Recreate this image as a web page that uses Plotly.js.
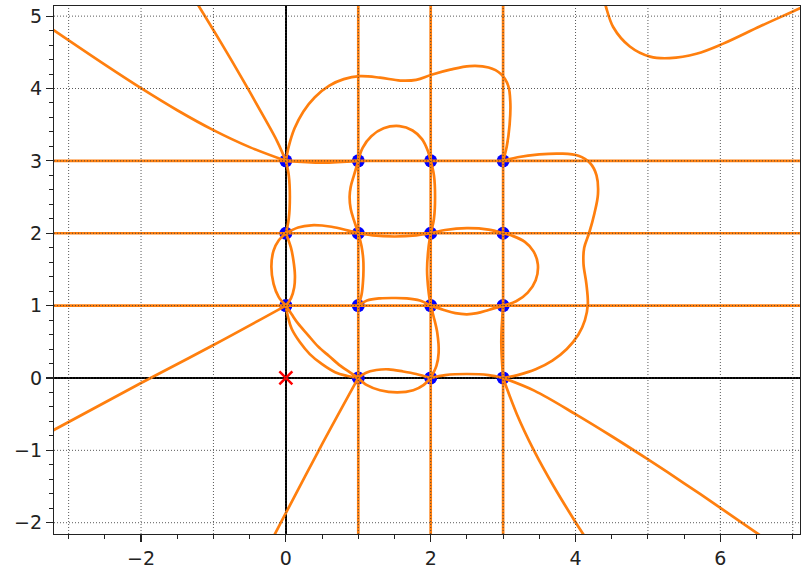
<!DOCTYPE html>
<html>
<head>
<meta charset="utf-8">
<script src="https://cdn.plot.ly/plotly-3.0.1.min.js"></script>
<style>
  html, body { margin: 0; padding: 0; background: #fff; }
  #chart { width: 801px; height: 574px; }
</style>
</head>
<body>
<div id="chart"></div>
<script>
// Axis windows
const xRange = [-3.202, 7.1];
const yRange = [-2.156, 5.14];

// Integer grid positions and tick labels
const gridX = [-3, -2, -1, 0, 1, 2, 3, 4, 5, 6, 7];
const gridY = [-2, -1, 0, 1, 2, 3, 4, 5];

// Straight components of the zero set
const lineXs = [1, 2, 3];
const lineYs = [1, 2, 3];

// Marked points
const ptsX = [0, 0, 0, 1, 1, 1, 1, 2, 2, 2, 2, 3, 3, 3, 3];
const ptsY = [1, 2, 3, 0, 1, 2, 3, 0, 1, 2, 3, 0, 1, 2, 3];
const originX = [0];
const originY = [0];

// Curved branches (traced points)
const upperLeftShallowX = [-3.3, -2.5, -2.0, -1.5, -1.0, -0.5, 0];
const upperLeftShallowY = [4.87, 4.33, 4.005, 3.70, 3.425, 3.19, 3.0];

const upperLeftSteepX = [-1.24, -0.9, -0.6, -0.3, -0.12, 0];
const upperLeftSteepY = [5.2, 4.64, 4.13, 3.6, 3.27, 3.0];

const lowerLeftX = [0, -1.0, -2.0, -3.3];
const lowerLeftY = [1, 0.455, -0.07, -0.77];

const bottomLeftX = [1, 0.455, -0.07, -0.2];
const bottomLeftY = [0, -1.0, -2.0, -2.25];

const archX = [0, 0.04, 0.12, 0.24, 0.4, 0.6, 0.8, 1.02, 1.3, 1.58, 1.8, 2.01, 2.27, 2.54, 2.8, 2.97, 3.07, 3.10, 3.09, 3.05, 3];
const archY = [3, 3.2, 3.45, 3.68, 3.88, 4.04, 4.13, 4.17, 4.15, 4.11, 4.12, 4.19, 4.26, 4.31, 4.29, 4.2, 4.04, 3.8, 3.5, 3.2, 3];

const rightLoopX = [3, 3.2, 3.45, 3.68, 3.88, 4.04, 4.13, 4.17, 4.15, 4.11, 4.12, 4.19, 4.26, 4.31, 4.29, 4.2, 4.04, 3.8, 3.5, 3.2, 3];
const rightLoopY = [0, 0.04, 0.12, 0.24, 0.4, 0.6, 0.8, 1.02, 1.3, 1.58, 1.8, 2.01, 2.27, 2.54, 2.8, 2.97, 3.07, 3.10, 3.09, 3.05, 3];

const topRightX = [4.4, 4.42, 4.52, 4.75, 5.03, 5.30, 5.67, 6.04, 6.55, 7.1, 7.2];
const topRightY = [5.2, 5.13, 4.85, 4.58, 4.44, 4.42, 4.48, 4.62, 4.86, 5.11, 5.16];

const bottomShallowX = [3, 3.43, 4.01, 4.5, 4.98, 5.5, 5.99, 6.52, 6.65];
const bottomShallowY = [0, -0.175, -0.506, -0.805, -1.112, -1.455, -1.788, -2.154, -2.244];

const bottomSteepX = [3, 3.19, 3.425, 3.70, 4.005, 4.33];
const bottomSteepY = [0, -0.5, -1.0, -1.5, -2.0, -2.5];

const lensLeftX = [0, -0.1, -0.17, -0.2, -0.17, -0.1, 0];
const lensLeftY = [1, 1.12, 1.3, 1.54, 1.76, 1.9, 2];

const lensRightX = [0, 0.07, 0.115, 0.125, 0.105, 0.07, 0];
const lensRightY = [1, 1.1, 1.25, 1.42, 1.62, 1.8, 2];

const dipX = [1, 1.12, 1.3, 1.54, 1.76, 1.9, 2];
const dipY = [0, -0.1, -0.17, -0.2, -0.17, -0.1, 0];

const humpX = [1, 1.1, 1.25, 1.42, 1.62, 1.8, 2];
const humpY = [0, 0.07, 0.11, 0.12, 0.09, 0.055, 0];

const axisUpperX = [0, 0.04, 0.055, 0.04, 0];
const axisUpperY = [3, 2.8, 2.5, 2.2, 2];

const axisRightX = [2, 2.2, 2.5, 2.8, 3];
const axisRightY = [0, 0.04, 0.055, 0.04, 0];

const arc02X = [0, 0.17, 0.35, 0.63, 0.85, 1];
const arc02Y = [2, 2.08, 2.11, 2.09, 2.04, 2];

const arc20X = [2, 2.08, 2.11, 2.09, 2.04, 2];
const arc20Y = [0, 0.17, 0.35, 0.63, 0.85, 1];

const arc13X = [1, 0.94, 0.895, 0.88, 0.895, 0.94, 1];
const arc13Y = [3, 2.8, 2.64, 2.5, 2.34, 2.18, 2];

const arc31X = [3, 2.8, 2.64, 2.5, 2.34, 2.18, 2];
const arc31Y = [1, 0.94, 0.895, 0.88, 0.895, 0.94, 1];

const arc12X = [1, 1.045, 1.068, 1.072, 1.065, 1.045, 1];
const arc12Y = [2, 1.82, 1.65, 1.5, 1.33, 1.15, 1];

const arc21X = [2, 1.85, 1.67, 1.5, 1.3, 1.12, 1];
const arc21Y = [1, 1.07, 1.1, 1.105, 1.1, 1.07, 1];

const sag12X = [1, 1.2, 1.5, 1.8, 2];
const sag12Y = [2, 1.97, 1.955, 1.97, 2];

const sag21X = [2, 1.97, 1.95, 1.97, 2];
const sag21Y = [1, 1.2, 1.5, 1.8, 2];

const arc23X = [2, 2.045, 2.06, 2.045, 2];
const arc23Y = [3, 2.8, 2.5, 2.2, 2];

const arc32X = [2, 2.2, 2.5, 2.8, 3];
const arc32Y = [2, 2.045, 2.07, 2.05, 2];

const capTopX = [1, 1.06, 1.18, 1.35, 1.57, 1.75, 1.88, 1.96, 2];
const capTopY = [3, 3.18, 3.34, 3.45, 3.48, 3.42, 3.3, 3.14, 3];

const capRightX = [3, 3.18, 3.34, 3.45, 3.48, 3.42, 3.3, 3.14, 3];
const capRightY = [1, 1.06, 1.18, 1.35, 1.57, 1.75, 1.88, 1.96, 2];

const diagOuterX = [0, 0.08, 0.17, 0.3, 0.44, 0.6, 0.75, 0.88, 1];
const diagOuterY = [1, 0.88, 0.75, 0.6, 0.44, 0.3, 0.17, 0.08, 0];

const diagInnerX = [0, 0.03, 0.08, 0.19, 0.33, 0.5, 0.68, 0.84, 1];
const diagInnerY = [1, 0.84, 0.68, 0.5, 0.33, 0.19, 0.08, 0.03, 0];

const edgeTopX = [0, 0.5, 1];
const edgeTopY = [3, 2.975, 3];

const edgeRightX = [3, 2.975, 3];
const edgeRightY = [0, 0.5, 1];

const curves = [
  [upperLeftShallowX, upperLeftShallowY], [upperLeftSteepX, upperLeftSteepY],
  [lowerLeftX, lowerLeftY], [bottomLeftX, bottomLeftY],
  [archX, archY], [rightLoopX, rightLoopY], [topRightX, topRightY],
  [bottomShallowX, bottomShallowY], [bottomSteepX, bottomSteepY],
  [lensLeftX, lensLeftY], [lensRightX, lensRightY], [dipX, dipY], [humpX, humpY],
  [axisUpperX, axisUpperY], [axisRightX, axisRightY],
  [arc02X, arc02Y], [arc20X, arc20Y], [arc13X, arc13Y], [arc31X, arc31Y],
  [arc12X, arc12Y], [arc21X, arc21Y], [sag12X, sag12Y], [sag21X, sag21Y],
  [arc23X, arc23Y], [arc32X, arc32Y], [capTopX, capTopY], [capRightX, capRightY],
  [diagOuterX, diagOuterY], [diagInnerX, diagInnerY],
  [edgeTopX, edgeTopY], [edgeRightX, edgeRightY]
];

const ORANGE = '#ff7f0e';
const curveLine = { color: ORANGE, width: 2.7, shape: 'spline', smoothing: 1 };
const straightLine = { color: ORANGE, width: 2.7 };

const traces = [];

// Points sit underneath the curves
traces.push({
  type: 'scatter', mode: 'markers', x: ptsX, y: ptsY,
  marker: { color: '#0000ff', size: 13 }, hoverinfo: 'skip'
});

// Horizontal and vertical line components
lineYs.forEach(v => traces.push({
  type: 'scatter', mode: 'lines', x: [xRange[0] - 1, xRange[1] + 1], y: [v, v],
  line: straightLine, hoverinfo: 'skip'
}));
lineXs.forEach(v => traces.push({
  type: 'scatter', mode: 'lines', x: [v, v], y: [yRange[0] - 1, yRange[1] + 1],
  line: straightLine, hoverinfo: 'skip'
}));

curves.forEach(([cx, cy]) => traces.push({
  type: 'scatter', mode: 'lines', x: cx, y: cy, line: curveLine, hoverinfo: 'skip'
}));

traces.push({
  type: 'scatter', mode: 'markers', x: originX, y: originY,
  marker: { symbol: 'x-thin', size: 13, color: '#ff0000', line: { color: '#ff0000', width: 2.5 } },
  hoverinfo: 'skip'
});

// Dotted grid drawn over the data
const gridStyle = { color: 'rgba(60,60,60,0.85)', width: 1, dash: '1px,2px' };
const shapes = [];
gridX.forEach(g => shapes.push({ type: 'line', layer: 'above', xref: 'x', yref: 'paper', x0: g, x1: g, y0: 0, y1: 1, line: gridStyle }));
gridY.forEach(g => shapes.push({ type: 'line', layer: 'above', xref: 'paper', yref: 'y', x0: 0, x1: 1, y0: g, y1: g, line: gridStyle }));

const tickFont = { family: 'DejaVu Sans, sans-serif', size: 19, color: '#222' };

const layout = {
  width: 801, height: 574,
  margin: { l: 54, r: 1, t: 6, b: 40 },
  paper_bgcolor: '#fff', plot_bgcolor: '#fff',
  showlegend: false,
  shapes: shapes,
  xaxis: {
    range: xRange, tick0: 0, dtick: 2, ticks: 'outside', ticklen: 7, tickwidth: 1.2, tickcolor: '#222',
    tickfont: tickFont, showgrid: false,
    zeroline: true, zerolinecolor: '#000', zerolinewidth: 1.8,
    showline: true, mirror: true, linecolor: '#222', linewidth: 1.2,
    minor: { dtick: 0.5, tick0: 0, ticks: 'outside', ticklen: 4, tickwidth: 1, tickcolor: '#222', showgrid: false }
  },
  yaxis: {
    range: yRange, tick0: 0, dtick: 1, ticks: 'outside', ticklen: 7, tickwidth: 1.2, tickcolor: '#222',
    tickfont: tickFont, showgrid: false,
    zeroline: true, zerolinecolor: '#000', zerolinewidth: 1.8,
    showline: true, mirror: true, linecolor: '#222', linewidth: 1.2,
    minor: { dtick: 0.2, tick0: 0, ticks: 'outside', ticklen: 4, tickwidth: 1, tickcolor: '#222', showgrid: false }
  }
};

Plotly.newPlot('chart', traces, layout, { staticPlot: true, displayModeBar: false });
</script>
</body>
</html>
